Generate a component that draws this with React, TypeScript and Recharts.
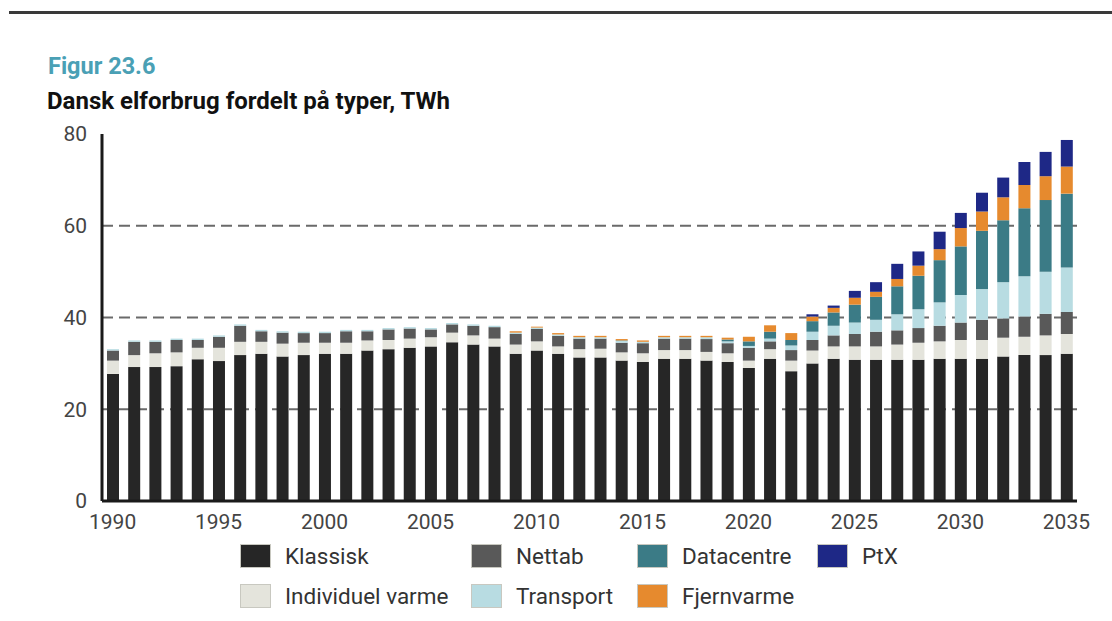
import { BarChart, Bar, XAxis, YAxis, CartesianGrid } from 'recharts';

const years = [
  1990, 1991, 1992, 1993, 1994, 1995, 1996, 1997, 1998, 1999,
  2000, 2001, 2002, 2003, 2004, 2005, 2006, 2007, 2008, 2009,
  2010, 2011, 2012, 2013, 2014, 2015, 2016, 2017, 2018, 2019,
  2020, 2021, 2022, 2023, 2024, 2025, 2026, 2027, 2028, 2029,
  2030, 2031, 2032, 2033, 2034, 2035,
];

const klassisk = [
  27.7, 29.2, 29.2, 29.4, 30.9, 30.5, 31.8, 32.1, 31.5, 31.8,
  32.1, 32.1, 32.8, 33.1, 33.4, 33.7, 34.6, 34.1, 33.7, 32.1,
  32.8, 32.1, 31.3, 31.3, 30.6, 30.3, 31.0, 31.0, 30.6, 30.3,
  29.0, 31.0, 28.3, 30.0, 31.0, 30.8, 30.8, 30.8, 30.8, 31.0,
  31.0, 31.0, 31.5, 31.8, 31.8, 32.1,
];

const individuelVarme = [
  2.9, 2.6, 3.0, 3.0, 2.5, 2.9, 2.9, 2.6, 2.8, 2.7,
  2.4, 2.4, 2.2, 2.0, 2.0, 2.0, 2.1, 2.0, 1.7, 2.0,
  2.0, 1.6, 1.8, 1.9, 1.8, 1.9, 1.9, 1.9, 1.9, 1.9,
  1.6, 2.1, 2.3, 2.8, 2.7, 2.9, 2.9, 3.3, 3.7, 3.8,
  4.1, 4.1, 4.1, 4.0, 4.3, 4.3,
];

const nettab = [
  2.2, 2.9, 2.5, 2.7, 1.7, 2.4, 3.5, 2.3, 2.4, 2.1,
  2.1, 2.5, 2.0, 2.3, 2.2, 1.7, 1.8, 2.1, 2.5, 2.3,
  2.7, 2.3, 2.3, 2.2, 2.1, 2.2, 2.5, 2.5, 2.8, 2.2,
  2.8, 1.7, 2.3, 2.3, 2.4, 2.7, 3.2, 3.1, 3.2, 3.4,
  3.8, 4.4, 4.2, 4.4, 4.7, 4.8,
];

const transport = [
  0.3, 0.3, 0.3, 0.3, 0.3, 0.3, 0.3, 0.3, 0.3, 0.3,
  0.3, 0.3, 0.3, 0.3, 0.3, 0.3, 0.3, 0.3, 0.3, 0.3,
  0.3, 0.3, 0.3, 0.3, 0.4, 0.3, 0.3, 0.3, 0.4, 0.4,
  0.4, 0.6, 1.0, 1.8, 2.1, 2.5, 2.6, 3.5, 4.1, 5.1,
  6.0, 6.7, 7.9, 8.8, 9.2, 9.7,
];

const datacentre = [
  0, 0, 0, 0, 0, 0, 0, 0, 0, 0,
  0, 0, 0, 0, 0, 0, 0, 0, 0, 0,
  0, 0, 0, 0, 0.1, 0, 0, 0, 0, 0.4,
  1.0, 1.5, 1.2, 2.3, 2.9, 3.9, 5.0, 6.1, 7.3, 9.2,
  10.6, 12.7, 13.5, 14.8, 15.6, 16.1,
];

const fjernvarme = [
  0, 0, 0, 0, 0, 0, 0, 0, 0, 0,
  0, 0, 0, 0, 0, 0, 0, 0, 0, 0.3,
  0.2, 0.3, 0.3, 0.3, 0.3, 0.3, 0.3, 0.3, 0.3, 0.4,
  1.0, 1.4, 1.5, 1.0, 1.0, 1.5, 1.1, 1.6, 2.2, 2.4,
  4.0, 4.2, 5.0, 5.1, 5.2, 5.9,
];

const ptx = [
  0, 0, 0, 0, 0, 0, 0, 0, 0, 0,
  0, 0, 0, 0, 0, 0, 0, 0, 0, 0,
  0, 0, 0, 0, 0, 0, 0, 0, 0, 0,
  0, 0, 0, 0.5, 0.5, 1.5, 2.1, 3.3, 3.1, 3.8,
  3.3, 4.1, 4.3, 5.0, 5.3, 5.8,
];

const yTicks = [0, 20, 40, 60, 80];

// stack order bottom -> top
const series = [
  { key: 'klassisk', name: 'Klassisk', values: klassisk, color: '#262626' },
  { key: 'individuel', name: 'Individuel varme', values: individuelVarme, color: '#e4e4dc' },
  { key: 'nettab', name: 'Nettab', values: nettab, color: '#595959' },
  { key: 'transport', name: 'Transport', values: transport, color: '#b8dce2' },
  { key: 'datacentre', name: 'Datacentre', values: datacentre, color: '#3b7b86' },
  { key: 'fjernvarme', name: 'Fjernvarme', values: fjernvarme, color: '#e68a2e' },
  { key: 'ptx', name: 'PtX', values: ptx, color: '#1e2886' },
];

const data = years.map((year, i) => {
  const row: Record<string, number> = { year };
  series.forEach((s) => {
    row[s.key] = s.values[i];
  });
  return row;
});

// legend layout as in the figure: two rows, four columns
const legendRows = [
  ['klassisk', 'nettab', 'datacentre', 'ptx'],
  ['individuel', 'transport', 'fjernvarme'],
];
const legendCols = [240, 471, 637, 817];

const font = 'Roboto, "Noto Sans", sans-serif';

export default function App() {
  return (
    <div
      style={{
        position: 'absolute',
        left: 0,
        top: 0,
        width: 1112,
        height: 621,
        background: '#fff',
        fontFamily: font,
        overflow: 'hidden',
      }}
    >
      <div style={{ position: 'absolute', left: 9, right: 0, top: 11, height: 3, background: '#3a3a3a' }} />
      <div
        style={{
          position: 'absolute',
          left: 48,
          top: 51,
          fontSize: 23.5,
          fontWeight: 700,
          color: '#4aa0b5',
          lineHeight: '30px',
        }}
      >
        Figur 23.6
      </div>
      <div
        style={{
          position: 'absolute',
          left: 47,
          top: 87,
          fontSize: 24,
          fontWeight: 700,
          color: '#111',
          lineHeight: '28px',
        }}
      >
        Dansk elforbrug fordelt på typer, TWh
      </div>

      <div style={{ position: 'absolute', left: 0, top: 0 }}>
        <BarChart
          width={1112}
          height={560}
          data={data}
          margin={{ top: 134, right: 35, left: 0, bottom: 29 }}
          barSize={12}
        >
          <CartesianGrid
            vertical={false}
            horizontalValues={[20, 40, 60]}
            stroke="#6a6a6a"
            strokeWidth={2}
            strokeDasharray="11 6"
          />
          <XAxis
            dataKey="year"
            interval={4}
            height={30}
            tickSize={0}
            tickMargin={13}
            axisLine={{ stroke: '#1a1a1a', strokeWidth: 3 }}
            tick={{ fontSize: 21, fill: '#444', fontFamily: font }}
          />
          <YAxis
            domain={[0, 80]}
            ticks={yTicks}
            width={102}
            tickSize={0}
            tickMargin={15}
            axisLine={{ stroke: '#1a1a1a', strokeWidth: 3 }}
            tick={{ fontSize: 21, fill: '#444', fontFamily: font }}
          />
          {series.map((s) => (
            <Bar
              key={s.key}
              dataKey={s.key}
              name={s.name}
              stackId="a"
              fill={s.color}
              isAnimationActive={false}
            />
          ))}
        </BarChart>
      </div>

      {legendRows.map((row, r) =>
        row.map((key, c) => {
          const s = series.find((x) => x.key === key)!;
          return (
            <div
              key={key}
              style={{
                position: 'absolute',
                left: legendCols[c],
                top: 544 + r * 40,
                height: 24,
                display: 'flex',
                alignItems: 'center',
              }}
            >
              <span
                style={{
                  width: 29,
                  height: 22,
                  background: s.color,
                  border: '1px solid #c8c8c0',
                  display: 'inline-block',
                }}
              />
              <span style={{ marginLeft: 14, fontSize: 22.5, color: '#333', whiteSpace: 'nowrap' }}>{s.name}</span>
            </div>
          );
        })
      )}
    </div>
  );
}
